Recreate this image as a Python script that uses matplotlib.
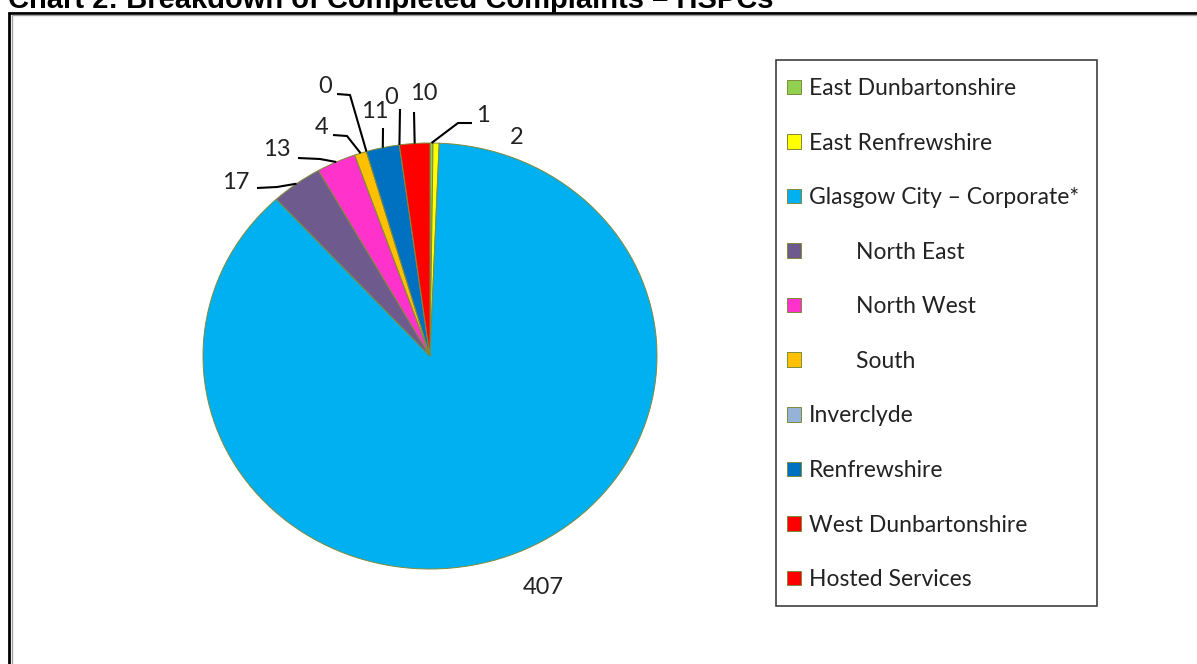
import matplotlib.pyplot as plt
from matplotlib.patches import Rectangle
import numpy as np

W, H = 1197, 664
DPI = 100

areas = ['East Dunbartonshire', 'East Renfrewshire', 'Glasgow City \u2013 Corporate*',
         '        North East', '        North West', '        South',
         'Inverclyde', 'Renfrewshire', 'West Dunbartonshire', 'Hosted Services']
complaints = [1, 2, 407, 17, 13, 4, 0, 11, 0, 10]
colours = ['#92D050', '#FFFF00', '#00B0F0', '#6F5A8E', '#FF33CC',
           '#FFC000', '#95B3D7', '#0070C0', '#FF0000', '#FF0000']

# label placement in pixels: text centre, start of leader, elbow (or None)
label_pos = [(483, 116), (517, 138), (543, 587), (236, 183), (277, 150),
             (322, 128), (325, 87), (375, 112), (391, 98), (424, 94)]
leader_start = [(472, 123), None, None, (257, 188), (298, 158),
                (333, 135), (337, 94), (383, 128), (400, 109), (414, 112)]
leader_elbow = [(458, 123), None, None, (277, 187), (320, 159),
                (347, 136), (350, 95), None, None, None]

# pie centre / radii in pixels (the chart is slightly squashed vertically)
cx, cy, rx, ry = 430, 356, 227, 213


def px(p):
    return ((p[0] - cx) / rx, (cy - p[1]) / ry)


plt.rcParams['font.family'] = ['Lato', 'DejaVu Sans']

fig = plt.figure(figsize=(W / DPI, H / DPI), dpi=DPI)
ax = fig.add_axes([0, 0, 1, 1])

wedges, _ = ax.pie(complaints, colors=colours, startangle=90, counterclock=False,
                   radius=1, center=(0, 0), frame=True,
                   wedgeprops=dict(edgecolor='#7F8A3A', linewidth=0.7))
ax.set_xlim(-cx / rx, (W - cx) / rx)
ax.set_ylim((cy - H) / ry, cy / ry)
ax.set_aspect('auto')
ax.axis('off')

total = sum(complaints)
cum = np.cumsum([0] + complaints[:-1])
for i, v in enumerate(complaints):
    ang = np.deg2rad(90 - (cum[i] + v / 2) / total * 360)
    edge = (np.cos(ang), np.sin(ang))
    tx, ty = px(label_pos[i])
    ax.text(tx, ty, str(v), ha='center', va='center', fontsize=17, color='#222222')
    if leader_start[i] is not None:
        pts = [px(leader_start[i])]
        if leader_elbow[i] is not None:
            pts.append(px(leader_elbow[i]))
        pts.append(edge)
        xs, ys = zip(*pts)
        ax.plot(xs, ys, color='black', lw=1.5, solid_capstyle='butt')

# legend entries without a frame; the box is drawn separately
leg = ax.legend(wedges, areas, loc='upper left',
                bbox_to_anchor=(776 / W, 1 - 66.5 / H, 321 / W, 0),
                bbox_transform=fig.transFigure, mode='expand',
                fontsize=16.5, frameon=False,
                handlelength=0.6, handleheight=0.6, handletextpad=0.35,
                labelspacing=1.465, borderpad=0.5, borderaxespad=0)
for t in leg.get_texts():
    t.set_color('#222222')
fig.patches.append(Rectangle((776 / W, 1 - 606 / H), 321 / W, 546 / H,
                             transform=fig.transFigure, fill=False,
                             edgecolor='#404040', linewidth=1.2))

# outer frame running off the right and bottom edges
fig.patches.append(Rectangle((9 / W, -0.1), 1.2, 1 - 13 / H + 0.1,
                             transform=fig.transFigure, fill=False,
                             edgecolor='black', linewidth=2.0))
fig.patches.append(Rectangle((11.5 / W, -0.1), 1.2, 1 - 15.5 / H + 0.1,
                             transform=fig.transFigure, fill=False,
                             edgecolor='#A0A0A0', linewidth=1.0))

fig.text(8 / W, 1 - 8 / H, 'Chart 2: Breakdown of Completed Complaints \u2013 HSPCs',
         family='Liberation Sans', fontweight='bold', fontsize=21, va='baseline')

fig.savefig('out.png', dpi=DPI)
